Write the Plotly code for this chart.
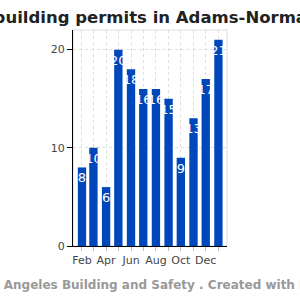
import plotly.graph_objects as go

months = ["2017-02-01", "2017-03-01", "2017-04-01", "2017-05-01", "2017-06-01", "2017-07-01",
          "2017-08-01", "2017-09-01", "2017-10-01", "2017-11-01", "2017-12-01", "2018-01-01"]
permits = [8, 10, 6, 20, 18, 16, 16, 15, 9, 13, 17, 21]

title_text = "New building permits in Adams-Normandie"
footer_text = "Source: Los Angeles Building and Safety . Created with Plotly"

fig = go.Figure()
fig.add_trace(go.Bar(
    x=months, y=permits,
    text=[str(v) for v in permits],
    textposition="inside",
    insidetextanchor="end",
    textangle=0,
    constraintext="none",
    cliponaxis=False,
    textfont=dict(color="white", size=13, family="DejaVu Sans"),
    marker=dict(color="#0047BB", line=dict(width=0)),
))

fig.update_layout(
    width=300, height=300,
    margin=dict(l=73, r=73, t=30, b=54, pad=0),
    paper_bgcolor="white", plot_bgcolor="white",
    bargap=0.27,
    showlegend=False,
    font=dict(family="DejaVu Sans", size=11, color="#444"),
    title=dict(text=title_text, x=0.5 - 2.5 / 300, xanchor="center", y=0.962, yanchor="top",
               font=dict(family="DejaVu Sans", size=16.5, color="#222", weight="bold")),
    xaxis=dict(
        type="date", range=["2017-01-10", "2018-01-22"],
        tick0="2017-02-01", dtick="M2", tickformat="%b",
        ticks="outside", ticklen=4, tickcolor="#bbb",
        showgrid=True, gridcolor="#ddd", griddash="3px,3px",
        minor=dict(dtick="M1", showgrid=True, gridcolor="#ddd", griddash="3px,3px",
                   ticks="outside", ticklen=4, tickcolor="#bbb"),
        showline=True, linecolor="black", linewidth=1,
        tickfont=dict(size=11, color="#444"),
    ),
    yaxis=dict(
        range=[0, 22], tickvals=[0, 10, 20],
        ticks="outside", ticklen=5, tickcolor="black",
        showgrid=True, gridcolor="#ddd", griddash="3px,3px",
        zeroline=False,
        showline=True, linecolor="black", linewidth=1,
        tickfont=dict(size=11, color="#444"),
    ),
    shapes=[dict(type="rect", xref="paper", yref="paper", x0=0, x1=1, y0=0, y1=1,
                 line=dict(color="#ddd", width=1), layer="below")],
    annotations=[dict(text=footer_text, xref="paper", yref="paper", x=(-81 - 73) / 154, y=-0.14,
                      xanchor="left", yanchor="top", showarrow=False,
                      font=dict(family="DejaVu Sans", size=12, color="#999", weight="bold"))],
)

fig.write_html("out.html")
